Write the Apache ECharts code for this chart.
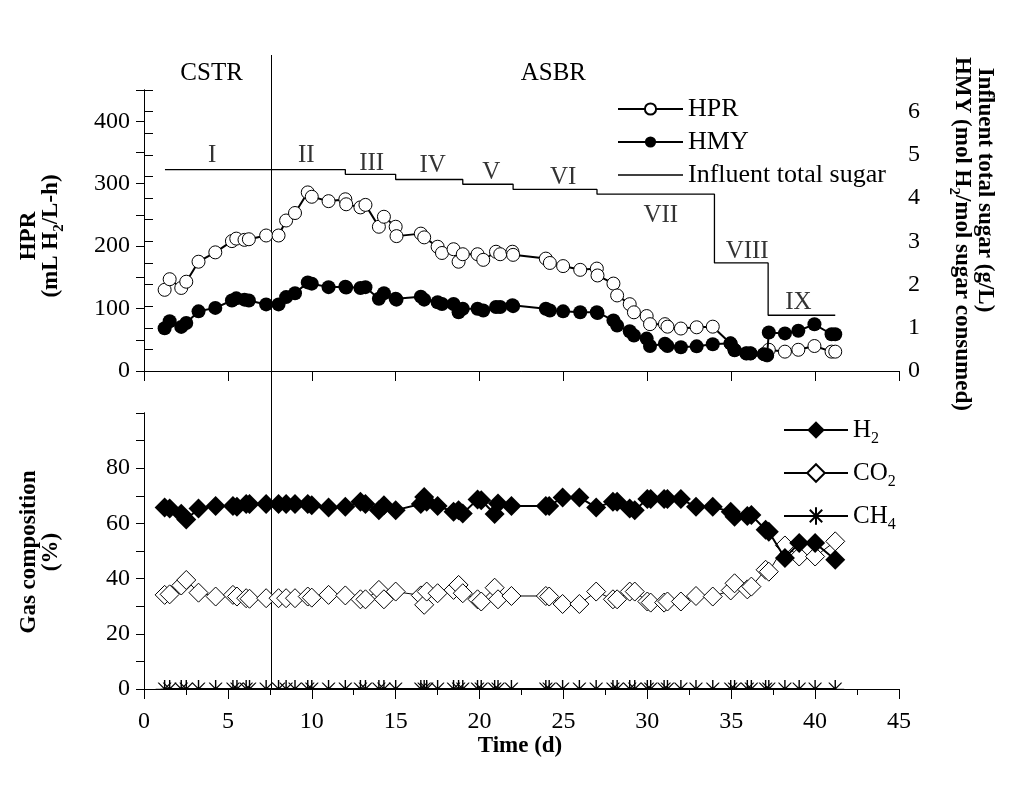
<!DOCTYPE html>
<html><head><meta charset="utf-8">
<script src="https://cdn.jsdelivr.net/npm/echarts@6/dist/echarts.min.js"></script>
<style>html,body{margin:0;padding:0;background:#fff;}#c{width:1013px;height:786px;}</style>
</head><body><div id="c"></div>
<script>
// ---- data ----
const topDays = [1.23,1.53,2.22,2.52,3.25,4.25,5.24,5.5,5.99,6.25,7.28,8.02,8.47,9.0,9.76,10.0,11.0,12.0,12.05,12.9,13.2,14.0,14.3,15.0,15.05,16.5,16.7,17.5,17.76,18.45,18.75,19.0,19.88,20.22,20.98,21.23,21.96,22.0,23.95,24.19,24.98,26.0,26.99,27.03,27.98,28.2,28.95,29.2,29.96,30.16,31.05,31.2,32.0,32.94,33.9,34.96,35.2,35.9,36.15,36.95,37.14,37.24,38.2,39.0,39.96,40.98,41.2];
const hprValues = [130,147,133,143,175,190,208,212,210,211,217,217,241,253,286,279,272,275,267,262,266,231,247,231,216,220,214,199,189,195,175,187,187,178,191,187,191,186,180,173,168,162,164,153,140,121,107,94,88,75,75,71,68,70,71,44,34,28,28,27,25,34,31,34,40,31,31];
const hmyValues = [0.99,1.15,1.02,1.11,1.38,1.46,1.63,1.68,1.65,1.63,1.54,1.54,1.71,1.80,2.05,2.02,1.94,1.95,1.93,1.92,1.94,1.67,1.80,1.67,1.65,1.72,1.65,1.59,1.55,1.55,1.36,1.44,1.44,1.40,1.48,1.48,1.52,1.50,1.44,1.40,1.38,1.36,1.36,1.34,1.17,1.05,0.92,0.82,0.75,0.58,0.63,0.58,0.55,0.57,0.62,0.64,0.48,0.41,0.41,0.39,0.37,0.89,0.87,0.93,1.08,0.85,0.85];
const sugarDays = [1.25,12,15,19,22,27,34,37.2,41.2];
const sugarValues = [4.66,4.55,4.43,4.32,4.20,4.09,2.50,1.29,1.29];
const phaseNames = ['I','II','III','IV','V','VI','VII','VIII','IX'];
const phaseDays = [4.07,9.67,13.57,17.2,20.7,24.98,30.8,35.95,39.0];
const phaseLevels = [4.99,4.99,4.8,4.76,4.6,4.48,3.6,2.77,1.59];
const reactorNames = ['CSTR','ASBR'];
const reactorLabelDays = [4.03,24.4];
const reactorSwitchDay = 7.6;

const gasDays = [1.23,1.53,2.22,2.52,3.25,4.27,5.3,5.54,6.09,6.29,7.28,8.02,8.47,9.0,9.76,10.0,11.0,12.0,12.9,13.2,14.0,14.3,15.0,16.5,16.7,16.85,17.5,18.45,18.75,19.0,19.88,20.1,20.9,21.1,21.9,23.95,24.15,24.95,25.95,26.95,27.95,28.2,28.95,29.25,30.0,30.2,31.0,31.2,32.0,32.9,33.9,34.97,35.2,35.96,36.2,37.05,37.24,38.2,39.05,40.0,41.2];
const h2Values = [65.8,65.4,63.5,61.4,65.4,66.3,66.3,66,67,67,67,67,67,67,67,66.6,65.8,66,67.8,67,64.8,66.6,64.8,67,69.6,67.8,66.3,64.2,64.8,63.6,68.7,68.4,63.4,67.2,66.3,66.3,66.3,69.4,69.4,65.8,67.8,67.8,65.4,64.8,68.8,68.8,68.8,68.8,68.8,66,66,64.2,62.4,62.7,63,57.7,57,47.5,52.9,52.9,46.8];
const co2Values = [34.1,34.3,37.5,39.5,34.9,33.5,34.1,33.5,32.9,32.7,32.9,32.9,32.9,32.9,33.5,33.1,34.1,33.9,32.5,32.5,35.9,32.5,35.3,33.9,30.5,35.3,34.7,35.9,37.7,34.7,32.5,31.7,36.7,32.5,33.7,33.7,33.5,30.8,30.8,35.3,32.5,32.5,35.3,35.3,31.7,31.3,31.3,31.7,31.7,33.7,33.5,35.7,38.3,36.1,37.1,43.2,42.5,52,48,48,53.5];
const ch4Values = [0,0,0,0,0,0,0,0,0,0,0,0,0,0,0,0,0,0,0,0,0,0,0,0,0,0,0,0,0,0,0,0,0,0,0,0,0,0,0,0,0,0,0,0,0,0,0,0,0,0,0,0,0,0,0,0,0,0,0,0,0];

// ---- chart ----
const F = 'Liberation Serif';
const K = '#000';
const pairs = (xs, ys) => xs.map((x, i) => [x, ys[i]]);
const gasRich = {
  n: {fontFamily: F, fontSize: 25, lineHeight: 26, color: K},
  s: {fontFamily: F, fontSize: 16, lineHeight: 10, verticalAlign: 'top', padding: [14, 0, 0, 0], color: K}
};
const gasLabel = {H2: '{n|H}{s|2}', CO2: '{n|CO}{s|2}', CH4: '{n|CH}{s|4}'};
const starFull = 'path://M0,-10L0,10M-10,0L10,0M-7.07,-7.07L7.07,7.07M-7.07,7.07L7.07,-7.07';
const starHalf = 'path://M0,0L0,-10M-10,0L10,0M0,0L-7.07,-7.07M0,0L7.07,-7.07';
const thinLineIcon = 'path://M0,0L65,0L65,1.3L0,1.3Z';

const tickFont = {fontFamily: F, fontSize: 24, color: K};
const lineK = {show: true, lineStyle: {color: K, width: 1}};

const chart = echarts.init(document.getElementById('c'));
chart.setOption({
  animation: false,
  backgroundColor: '#fff',
  grid: [
    {left: 144, right: 114, top: 90, height: 281},
    {left: 144, right: 114, top: 413, height: 276}
  ],
  xAxis: [
    {gridIndex: 0, type: 'value', min: 0, max: 45, interval: 5, position: 'bottom',
     axisLine: lineK, axisTick: {show: true, length: 10, lineStyle: {color: K}},
     axisLabel: {show: false}, splitLine: {show: false}},
    {gridIndex: 0, type: 'value', min: 0, max: 45, position: 'top',
     axisLine: lineK, axisTick: {show: false}, axisLabel: {show: false}, splitLine: {show: false}},
    {gridIndex: 1, type: 'value', min: 0, max: 45, interval: 5, position: 'bottom',
     axisLine: lineK, axisTick: {show: true, length: 10, lineStyle: {color: K}},
     minorTick: {show: true, splitNumber: 2, length: 6, lineStyle: {color: K}},
     axisLabel: Object.assign({margin: 21}, tickFont), splitLine: {show: false}, minorSplitLine: {show: false}},
    {gridIndex: 1, type: 'value', min: 0, max: 45, position: 'top',
     axisLine: lineK, axisTick: {show: false}, axisLabel: {show: false}, splitLine: {show: false}}
  ],
  yAxis: [
    {gridIndex: 0, type: 'value', min: 0, max: 450, interval: 50, position: 'left',
     axisLine: lineK, axisTick: {show: true, length: 8, lineStyle: {color: K}},
     axisLabel: Object.assign({margin: 14, formatter: v => (v % 100 === 0 && v <= 400 ? String(v) : '')}, tickFont),
     splitLine: {show: false}},
    {gridIndex: 0, type: 'value', min: 0, max: 6.5, interval: 0.5, position: 'right',
     axisLine: lineK, axisTick: {show: true, length: 9, lineStyle: {color: K}},
     axisLabel: Object.assign({margin: 9, formatter: v => (Number.isInteger(v) && v <= 6 ? String(v) : '')}, tickFont),
     splitLine: {show: false}},
    {gridIndex: 1, type: 'value', min: 0, max: 100, interval: 10, position: 'left',
     axisLine: lineK, axisTick: {show: true, length: 8, lineStyle: {color: K}},
     axisLabel: Object.assign({margin: 14, formatter: v => (v % 20 === 0 && v < 100 ? String(v) : '')}, tickFont),
     splitLine: {show: false}},
    {gridIndex: 1, type: 'value', min: 0, max: 100, position: 'right',
     axisLine: lineK, axisTick: {show: false}, axisLabel: {show: false}, splitLine: {show: false}}
  ],
  legend: [
    {orient: 'vertical', left: 612, top: 91, itemWidth: 65, itemHeight: 14, itemGap: 7,
     textStyle: {fontFamily: F, fontSize: 26, color: K, lineHeight: 26},
     data: ['HPR', 'HMY', {name: 'Influent total sugar', icon: thinLineIcon}], selectedMode: false},
    {orient: 'vertical', left: 778, top: 412, itemWidth: 64, itemHeight: 22, itemGap: 13,
     textStyle: {fontFamily: F, fontSize: 25, color: K, rich: gasRich},
     formatter: name => gasLabel[name],
     data: ['H2', 'CO2', 'CH4'], selectedMode: false}
  ],
  series: [
    {name: 'HPR', type: 'line', xAxisIndex: 0, yAxisIndex: 0, data: pairs(topDays, hprValues),
     symbol: 'circle', symbolSize: 13, z: 3,
     itemStyle: {color: '#fff', borderColor: K, borderWidth: 1},
     lineStyle: {color: K, width: 2}},
    {name: 'HMY', type: 'line', xAxisIndex: 0, yAxisIndex: 1, data: pairs(topDays, hmyValues),
     symbol: 'circle', symbolSize: 14, z: 4,
     itemStyle: {color: K, borderColor: K, borderWidth: 0},
     lineStyle: {color: K, width: 2}},
    {name: 'Influent total sugar', type: 'line', xAxisIndex: 0, yAxisIndex: 1, step: 'end',
     data: pairs(sugarDays, sugarValues), symbol: 'none', showSymbol: false,
     itemStyle: {color: K}, lineStyle: {color: K, width: 1.3}},
    {name: 'phases', type: 'scatter', xAxisIndex: 0, yAxisIndex: 1, symbolSize: 0, silent: true,
     data: phaseDays.map((d, i) => ({value: [d, phaseLevels[i]], name: phaseNames[i]})),
     label: {show: true, position: 'inside', formatter: p => p.name, fontFamily: F, fontSize: 25, color: K}},
    {name: 'H2', type: 'line', xAxisIndex: 2, yAxisIndex: 2, data: pairs(gasDays, h2Values),
     symbol: 'diamond', symbolSize: 20, z: 4,
     itemStyle: {color: K, borderWidth: 0}, lineStyle: {color: K, width: 2}},
    {name: 'CO2', type: 'line', xAxisIndex: 2, yAxisIndex: 2, data: pairs(gasDays, co2Values),
     symbol: 'diamond', symbolSize: 19, z: 3,
     itemStyle: {color: '#fff', borderColor: K, borderWidth: 1}, lineStyle: {color: K, width: 1}},
    {name: 'CH4', type: 'line', xAxisIndex: 2, yAxisIndex: 2,
     data: gasDays.map((d, i) => ({value: [d, ch4Values[i]], symbol: starHalf, symbolSize: [18, 9], symbolOffset: [0, '-50%']})),
     symbol: starFull, symbolSize: 17, z: 3,
     itemStyle: {color: K, borderColor: K, borderWidth: 1}, lineStyle: {color: K, width: 2}}
  ]
});

const xPix = d => chart.convertToPixel({xAxisIndex: 0}, d);
const titleRich = {
  b: {fontFamily: F, fontSize: 23, fontWeight: 'bold', lineHeight: 22, color: K},
  s: {fontFamily: F, fontSize: 15, fontWeight: 'bold', lineHeight: 8, verticalAlign: 'top', padding: [12, 0, 0, 0], color: K}
};
const vText = (text, x, y, rot) => ({type: 'text', x: x, y: y, rotation: rot, silent: true,
  style: {text: text, rich: titleRich, align: 'center', verticalAlign: 'middle', fill: K}});
const sx = xPix(reactorSwitchDay);
chart.setOption({
  graphic: [
    {type: 'line', silent: true, shape: {x1: sx, y1: 55, x2: sx, y2: 689}, style: {stroke: K, lineWidth: 1}},
    {type: 'text', x: xPix(reactorLabelDays[0]), y: 73, silent: true,
     style: {text: reactorNames[0], fontFamily: F, fontSize: 25, fill: K, align: 'center', verticalAlign: 'middle'}},
    {type: 'text', x: xPix(reactorLabelDays[1]), y: 73, silent: true,
     style: {text: reactorNames[1], fontFamily: F, fontSize: 25, fill: K, align: 'center', verticalAlign: 'middle'}},
    vText('{b|HPR}\n{b|(mL H}{s|2}{b|/L-h)}', 40, 236, Math.PI / 2),
    vText('{b|Gas composition}\n{b|(%)}', 40, 552, Math.PI / 2),
    vText('{b|Influent total sugar (g/L)}', 985, 190, -Math.PI / 2),
    vText('{b|HMY (mol H}{s|2}{b|/mol sugar consumed)}', 962, 234, -Math.PI / 2),
    vText('{b|Time (d)}', 520, 746, 0)
  ]
});
</script></body></html>
